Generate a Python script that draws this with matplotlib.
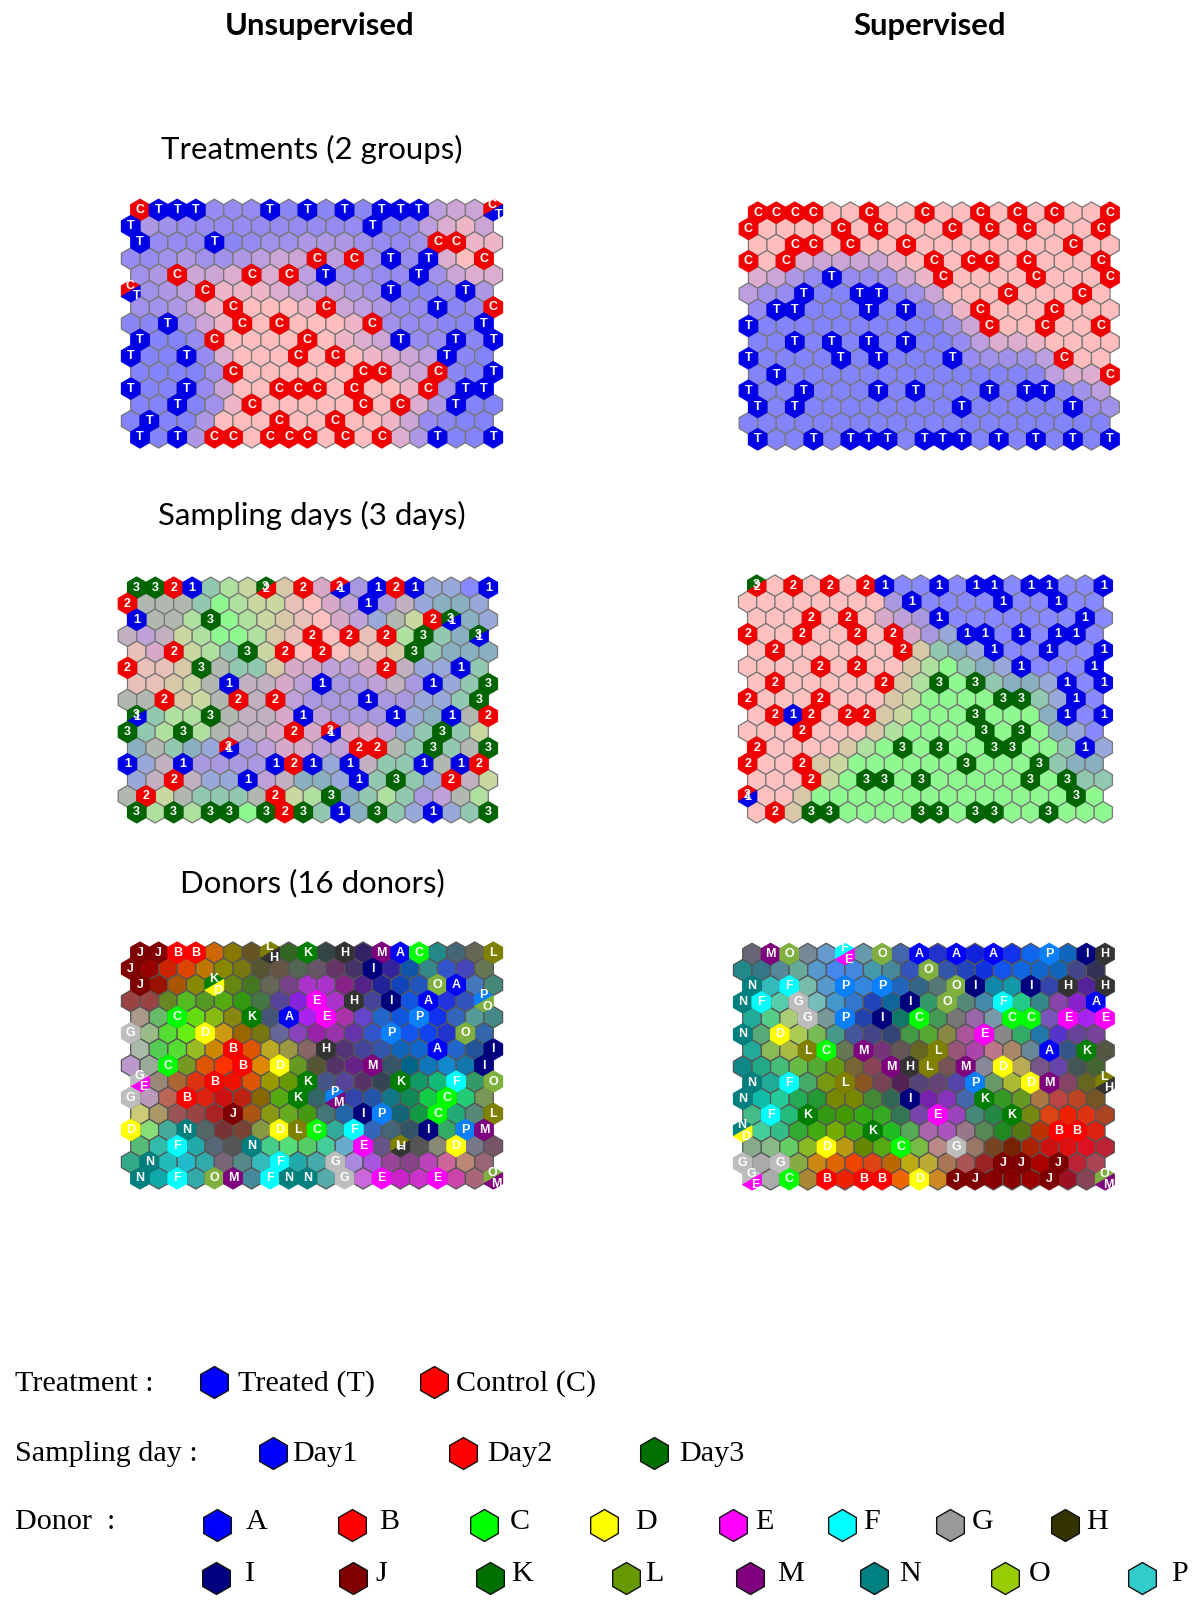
import matplotlib
matplotlib.use('Agg')
import matplotlib.pyplot as plt
from matplotlib.collections import PolyCollection

# labels of the map cells, '.' = empty, '*' = two labels in one cell (see the MIX lists)
treat_unsup = ["CTTT...T.T.T.TTT...*", "T............T......", "T...T...........CC..",
               "..........C.C.T.T..C", "..C...C.C.T....T....", "*...C.........T...T.",
               ".....C....C.....T..C", "..T...C.C....C.....T", "T...C....C....T..T.T",
               "T..T.....C.C.....T..", ".....C......CC..C..T", "T..T....CCC.C...C.TT",
               "..T...C.....C.C..T..", ".T......C..C........", "T.T.CC.CCC.C.C..T..T"]
treat_unsup_mix = ["CT", "CT"]
treat_sup = ["CCCC..C..C..C.C.C..C", "C....C.C...C.C.C...C", "..CC.C..C........C..",
             "C.C.......C.CC.C...C", "....T.....C....C...C", "...T..TT......C...C.",
             ".TT...T.T...C...C...", "T............C..C..C", "..T.T.T.T...........",
             "T....T.T...T.....C..", ".T.................C", "T..T...T.T...T.TT...",
             "T.T........T.....T..", "....................", "T..T.TTT.TTT.T.T.T.T"]
treat_sup_mix = []

day_unsup = ["3321...*.2.*.121...1", "2............1......", "1...3...........2*..",
             "..........2.2.2.3..*", "..2...3.2.2....3....", "2...3.........2...1.",
             ".....1....1.....1..3", "..2...2.2....1.....3", "*...3....1....1..1.2",
             "3..3.....2.*.....3..", ".....*......22..3..3", "1..1....121.1...1.12",
             "..2...1.....1.3..2..", ".2......2..3........", "3.3.33.323.1.3..1..3"]
day_unsup_mix = ["32", "21", "31", "31", "31", "21", "21"]
day_sup = ["*.2.2.21..1.11.11..1", ".........1....1..1..", "...2.2....1.......1.",
           "2..2..2.2...11.1.11.", ".2......2....1..1..1", "....2.2........1...1",
           ".2.....2..3.3....1.1", "2...2.........33..1.", ".212.22.....3....1.1",
           "...2.........3.3....", "2.......3.3..33...1.", "2..2........3...3...",
           "...2..33.3.....3.3..", "*.................3.", ".2.33....33.33..3..."]
day_sup_mix = ["32", "21"]

donor_unsup = ["JJBB...*.K.H.MAC...L", "J............I......", "J...*...........OA..",
               "..........E.H.I.A..*", "..C...K.A.E....P....", "G...D.........P...O.",
               ".....B....H.....A..I", "..C...B.D....M.....I", "*...B....K....K..F.O",
               "G..B.....K.*.....C..", ".....J......IP..C..L", "D..N....DLC.F...I.PM",
               "..F...N.....E.*..D..", ".N......F..G........", "N.F.OM.FNN.G.E..E..*"]
donor_unsup_mix = ["LH", "KD", "PO", "GE", "PM", "LH", "OM"]
donor_sup = [".MO..*.O.A.A.A..P.IH", "..........O.........", "N.F..P.P...OI..I.H.H",
             "NF.G.....I.O..F....A", "...G.P.I.C....CC.E.E", "N.D..........E......",
             "...LC.M...L.....A.K.", "........MHL.M.D.....", "N.F..L......P..DM..*",
             "N........I...K......", ".F.K......E...K.....", "*......K.........BB.",
             "....D...C..G........", "G.G...........JJ.J..", "*.C.B.BB.D.JJ...J..*"]
donor_sup_mix = ["FE", "LH", "ND", "GE", "OM"]

# share of red in the treatment maps, 0 = all blue, 9 = all red
treat_unsup_share = ["00002221111111115667", "14322222222221125786", "02221123344432238888",
                     "22343345666553222798", "34566777754332223677", "03456888765543211224",
                     "33468899988654221125", "11136899999987322111", "00026999999876422111",
                     "00002799999998765410", "00003799999999765100", "00002699999999986300",
                     "00003899999999974100", "00004999999999862100", "00049999999999741000"]
treat_sup_share = ["99999999999999999999", "99999999999999999999", "99999999999999999999",
                   "99976666899999999999", "76421223689999999999", "53210000136999999999",
                   "21000000014899999999", "00000000000369999999", "00000000000257789999",
                   "00000000000023335999", "00000000000000015779", "00000000000000000135",
                   "00000000000000000023", "00000000000000000000", "00000000000000000000"]

# mixed colours of the day maps
day_shades = {'r': '#ffc0c0', 'b': '#8888ff', 'g': '#90f890', 'l': '#b0e0a0', 'i': '#c8d8a0',
              'y': '#d8c8a8', 'e': '#e8c0b8', 'm': '#d8a8c8', 'p': '#c0a0d8', 'v': '#a898e0',
              'c': '#98a8d8', 't': '#88b0c0', 'a': '#90c8b0', 'n': '#b0b8b0', 's': '#c0b0c0'}
day_unsup_bg = ["nnnnalinynmnvnnnccbn", "nnnnagliiermpnvscttc", "nnnlngliyermpcninntc",
                "spsilgglyenrnenlnatn", "emnilaninrnreeynattt", "neeynnaaymmppmnsccna",
                "eeyinnssmpnvvpsvncan", "nnnyinnsnpvvvnvvccan", "nallnnssmnpvvvnctnnn",
                "nalnlnssmnmnmmpcanai", "tnatcnvpmmppnnnanann", "ncsnvvvvnnncnsaannnn",
                "csnsccnpsttcnanacnsi", "nninaaannilntalavpnl", "nlnlnngnnnantnacncan"]
day_sup_bg = ["rrrrrrrbbbbbbbbbbbbb", "rrrrrrrrvbbbbbbbbbbb", "rrrrrrrmpvbbbbbbbbbb",
              "rrrrrrrrrmvcbbbbbbbb", "rrrrrrrrryatcbbbbbbb", "rrrrrrrrrylgatcbbbbb",
              "rrrrrrrrylgggattcbbb", "rrrrrrrryiggggggacbb", "rrrrrrryigggggggtbbb",
              "rrrrrrrylggggggggtcb", "rrrrrylggggggggggabc", "rrrryigggggggggggatt",
              "rrrrigggggggggggggaa", "rrrygggggggggggggggg", "rryggggggggggggggggg"]

# cell colours of the donor maps, '...' = cell covered by a label
donor_unsup_bg = [
    "... ... ... ... c60 870 652 ... 362 ... 344 ... 326 ... ... ... 288 467 665 ...",
    "... 900 c20 d40 b70 880 771 553 654 565 656 636 436 ... 329 15a 388 35c 44b 675",
    "... 910 a50 880 ... 681 472 665 748 a3c a3c 828 528 229 14b 25b ... ... 47b 487",
    "944 944 682 5b2 592 5a1 391 474 549 82d ... a3c ... 449 ... 15d ... 23d 35b ...",
    "a98 6b6 ... 6d1 8b1 881 ... 457 ... a2e ... a3a 64c 26c 15d ... 13e 36b 599 488",
    "... 9b8 5d3 6e1 ... c91 960 771 669 84b 92a 93a 63a 35c ... 15e 14e 23c ... 36a",
    "aba 5c5 5d3 9b2 c80 ... d50 ba2 994 866 ... 537 449 35a 16b 16c ... 26c 259 ...",
    "b9c 9a9 ... 792 d50 f30 ... d80 ... 692 553 536 628 ... 356 068 17b 18c 17a ...",
    "... 987 a63 d31 ... e10 d50 990 690 ... 458 549 536 345 ... 196 1b7 ... 396 ...",
    "... b9b b65 ... d21 c11 b21 860 5a1 ... 366 ... 34a 25a 178 185 1c4 ... 2c7 795",
    "cc7 a96 955 944 a22 ... a51 891 6a2 491 477 26a ... ... 167 194 ... 2a7 587 ...",
    "... 8d7 4a9 ... 566 733 743 894 ... ... ... 3a9 ... 36b 467 356 ... 3a6 ... ...",
    "5b7 3ba ... 2aa 567 555 ... 4c8 5d7 5c6 4c9 6ac ... 658 ... 555 887 ... 778 756",
    "3a8 ... 2bb 2bc 3aa 767 588 3bb ... 2aa 4aa ... a8d a5d 949 848 b4b c69 b87 967",
    "... 1aa ... 3aa ... ... 489 ... ... ... 5aa ... c6d ... c2c c3c ... c4a a67 ..."]
donor_sup_bg = [
    "667 ... ... 789 69c ... 69a ... 46a ... 23c ... 12d ... 13e 16e ... 16b ... ...",
    "288 378 589 6a9 59c 48e 48d 49a 489 35b ... 35a 24b 13d 15e 16d 16c 16b 448 335",
    "... 3bb ... 7ba 59c ... 38d ... 26b 368 577 ... ... 18a 19a ... 34a ... 529 ...",
    "... ... 5ca ... 7bb 49c 37c 24b 169 ... 396 ... 587 48a ... 2c8 388 84a 82c ...",
    "2a9 5c8 ac7 ... 799 ... 24a ... 176 ... 495 777 96a 79a ... ... 75b ... a2e ...",
    "... 5a7 ... ac5 7b5 498 459 448 347 494 5a3 884 a59 ... 888 3a6 27a 53c 649 749",
    "2a9 8b5 ab4 ... ... 675 ... 737 655 662 ... 957 a4a b78 a86 689 ... 358 ... 554",
    "188 2a8 4b7 6b4 5a3 691 763 845 ... ... ... 755 ... 889 ... ba5 758 64a 455 463",
    "... 2a9 ... 4a6 791 ... 852 745 525 547 647 54a ... 696 ab3 ... ... 846 662 ...",
    "... 1ba 2c9 2a5 293 780 780 483 365 ... 72a 83b 46a ... 392 692 a74 b44 b42 752",
    "4b8 ... 2b7 ... 391 490 3a1 3a2 375 74a ... 94b 487 284 ... 781 d41 e20 d31 a42",
    "... 4c9 3b8 3a3 4a1 7a0 4a1 ... 2b2 5a5 a6a a5b 978 585 282 571 b30 ... ... d21",
    "8a8 8b8 6c6 8b2 ... b91 680 5a1 ... 7b4 b88 ... 976 742 720 a20 c11 d11 d12 b23",
    "... aaa ... 8a4 c81 d60 e40 d41 b60 ba1 ba3 a75 a55 922 ... ... a00 ... b23 a45",
    "... aaa ... a83 ... e20 ... ... e60 ... c82 ... ... 800 800 900 ... 912 845 ..."]

label_colors = {'T': '#0000e6', 'C': '#f00000', '1': '#0000e6', '2': '#f00000', '3': '#006400',
                'A': '#0000ff', 'B': '#ff0000', 'C_': '#00ff00', 'D': '#ffff00', 'E': '#ff00ff',
                'F': '#00ffff', 'G': '#bdbdbd', 'H': '#333333', 'I': '#00007f', 'J': '#7f0000',
                'K': '#007f00', 'L': '#7f7f00', 'M': '#7f007f', 'N': '#007f7f', 'O': '#7fb040',
                'P': '#0a80ff'}

panel_titles = ['Treatments (2 groups)', 'Sampling days (3 days)', 'Donors (16 donors)']

legend_treat = ['Treated (T)', 'Control (C)']
legend_day = ['Day1', 'Day2', 'Day3']
legend_donor1 = ['A', 'B', 'C', 'D', 'E', 'F', 'G', 'H']
legend_donor2 = ['I', 'J', 'K', 'L', 'M', 'N', 'O', 'P']
treat_legend_colors = ['#0000ff', '#ff0000']
day_legend_colors = ['#0000ff', '#ff0000', '#007000']
donor1_legend_colors = ['#0000ff', '#ff0000', '#00ff00', '#ffff00', '#ff00ff', '#00ffff', '#999999', '#333300']
donor2_legend_colors = ['#000080', '#800000', '#007000', '#669900', '#800080', '#008080', '#99cc00', '#33cccc']

W, H = 1200, 1610
R = 2 / 3
HEX = [(0, -R), (0.5, -R / 2), (0.5, R / 2), (0, R), (-0.5, R / 2), (-0.5, -R / 2)]


def mix_color(share):
    t = (int(share) / 9) ** 1.3
    blue, red = (0x83, 0x83, 0xfa), (0xff, 0xbd, 0xbd)
    return tuple((b + (r - b) * t) / 255 for b, r in zip(blue, red))


def put_label(ax, x, y, lab, size):
    ax.text(x, y, lab, color='white', ha='center', va='center',
            fontsize=size, fontweight='bold', family='Liberation Sans', zorder=5)


def draw_map(extent, labels, mixes, colors, spread, dx=0.1, size=9, edge='#777777', tight=()):
    # extent = pixel position of first and last cell of the top and bottom row
    x0, x1, y0, y1 = extent
    px, py = (x1 - x0) / 19, (y1 - y0) / 14
    left = x0 - 1.5 * px
    top = y0 - py
    ax = fig.add_axes([left / W, 1 - (top + 16 * py) / H, 22 * px / W, 16 * py / H])
    ax.set_xlim(-1, 21)
    ax.set_ylim(15, -1)
    ax.axis('off')

    polys, faces = [], []
    marked, mark_faces = [], []
    mix_iter = iter(mixes)
    for r, row in enumerate(labels):
        off = 0.5 if r % 2 == 0 else 0
        for c, lab in enumerate(row):
            x = c + off
            pts = [(x + a, r + b) for a, b in HEX]
            if lab == '.':
                polys.append(pts)
                faces.append(colors[r][c])
            elif lab == '*':
                first, second = next(mix_iter)
                marked.append([pts[4], pts[5], pts[0], pts[1]])
                mark_faces.append(label_colors[key(first, labels)])
                marked.append([pts[1], pts[2], pts[3], pts[4]])
                mark_faces.append(label_colors[key(second, labels)])
                s = 0.03 if (r, c) in tight else spread
                d = 0 if (r, c) in tight else dx
                put_label(ax, x - 0.05, r - s, first, size)
                put_label(ax, x + d, r + s, second, size)
            else:
                marked.append(pts)
                mark_faces.append(label_colors[key(lab, labels)])
                put_label(ax, x, r, lab, size)
    ax.add_collection(PolyCollection(polys, facecolors=faces, edgecolors=edge, linewidths=0.9, zorder=1))
    ax.add_collection(PolyCollection(marked, facecolors=mark_faces, edgecolors=mark_faces, linewidths=0.8, zorder=3))
    return ax


def key(lab, labels):
    # C means Control in the treatment maps but donor C in the donor maps
    if lab == 'C' and labels in (donor_unsup, donor_sup):
        return 'C_'
    return lab


def hex3(rows):
    return [['#' + v if v != '...' else '#888888' for v in row.split()] for row in rows]


fig = plt.figure(figsize=(W / 100, H / 100), dpi=100)

page = fig.add_axes([0, 0, 1, 1])
page.set_xlim(0, W)
page.set_ylim(H, 0)
page.axis('off')

page.text(320, 26, 'Unsupervised', family='Lato', fontweight='bold', fontsize=22.3, ha='center', va='center')
page.text(930, 26, 'Supervised', family='Lato', fontweight='bold', fontsize=22.3, ha='center', va='center')
for title, y in zip(panel_titles, [149, 515, 883]):
    page.text(312, y, title, family='Lato', fontsize=22.4, ha='center', va='center')

draw_map((140, 493.3, 210, 437.3), treat_unsup,
         treat_unsup_mix, [[mix_color(v) for v in row] for row in treat_unsup_share], 0.3, 0.3)
draw_map((757.7, 1110, 212.7, 439.3), treat_sup,
         treat_sup_mix, [[mix_color(v) for v in row] for row in treat_sup_share], 0.3)
draw_map((136.7, 488.3, 587.7, 812.3), day_unsup,
         day_unsup_mix, [[day_shades[v] for v in row] for row in day_unsup_bg], 0.05, 0)
draw_map((756.7, 1103.3, 585.7, 812.3), day_sup,
         day_sup_mix, [[day_shades[v] for v in row] for row in day_sup_bg], 0.05, 0)
draw_map((140, 493.3, 952.7, 1178.3), donor_unsup,
         donor_unsup_mix, hex3(donor_unsup_bg), 0.35, 0.18, edge='#555555', tight=[(12, 14)])
draw_map((752, 1105, 954, 1179.3), donor_sup,
         donor_sup_mix, hex3(donor_sup_bg), 0.35, 0.18, edge='#555555')


def legend_row(names, colors, hex_x, text_x, hex_y, text_y):
    for name, color, hx, tx in zip(names, colors, hex_x, text_x):
        page.plot([hx], [hex_y], marker='h', ms=23, mfc=color, mec='#111111', mew=1, ls='none')
        page.text(tx, text_y, name, family='Liberation Serif', fontsize=21.7, ha='left', va='center')


for name, y in zip(['Treatment :', 'Sampling day :', 'Donor  :'], [1384, 1454, 1522]):
    page.text(15, y, name, family='Liberation Serif', fontsize=21.7, ha='left', va='center')

legend_row(legend_treat, treat_legend_colors, [214, 434], [238, 456], 1382, 1384)
legend_row(legend_day, day_legend_colors, [273, 463, 654], [292, 487, 679], 1453, 1454)
legend_row(legend_donor1, donor1_legend_colors,
           [217, 352, 484, 604, 733, 842, 950, 1065],
           [246, 379, 510, 635, 755, 863, 972, 1086], 1525, 1522)
legend_row(legend_donor2, donor2_legend_colors,
           [216, 353, 490, 626, 750, 874, 1005, 1142],
           [245, 375, 511, 645, 777, 899, 1029, 1171], 1578, 1574)

plt.savefig('out.png', dpi=100)
